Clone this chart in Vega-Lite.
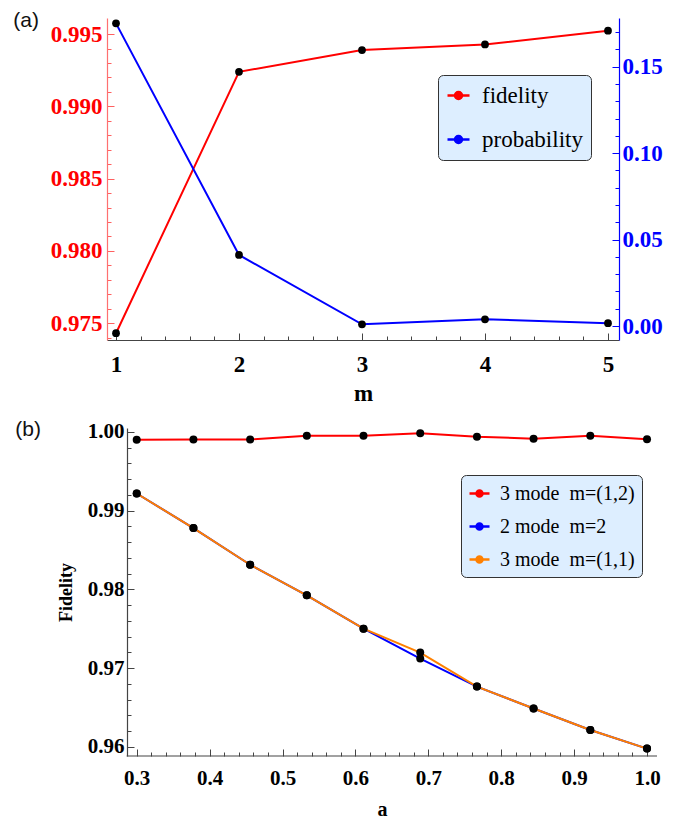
{
  "$schema": "https://vega.github.io/schema/vega-lite/v6.json",
  "padding": {"left": 13, "top": 10, "right": 5, "bottom": 1},
  "spacing": 13,
  "center": false,
  "resolve": {"scale": {"color": "independent"}, "legend": {"color": "independent"}},
  "config": {
    "font": "Liberation Serif",
    "view": {"stroke": null},
    "axis": {"grid": false, "labelFont": "Liberation Serif", "labelFontWeight": "bold", "labelFontSize": 22, "labelColor": "black", "titleFont": "Liberation Serif", "titleFontWeight": "bold", "titleColor": "black", "domainColor": "#444", "tickColor": "#444", "domainWidth": 1.2, "tickWidth": 1},
    "legend": {"labelFont": "Liberation Serif", "labelFontWeight": "normal", "labelColor": "black"},
    "title": {"font": "Liberation Sans", "fontWeight": "normal", "fontSize": 21, "color": "#111"}
  },
  "datasets": {
    "a": [
      {"m": 1, "series": "fidelity", "value": 0.97431},
      {"m": 2, "series": "fidelity", "value": 0.99239},
      {"m": 3, "series": "fidelity", "value": 0.99389},
      {"m": 4, "series": "fidelity", "value": 0.99428},
      {"m": 5, "series": "fidelity", "value": 0.99523},
      {"m": 1, "series": "probability", "value": 0.1751},
      {"m": 2, "series": "probability", "value": 0.0411},
      {"m": 3, "series": "probability", "value": 0.0010},
      {"m": 4, "series": "probability", "value": 0.0039},
      {"m": 5, "series": "probability", "value": 0.0016}
    ],
    "b": [
      {"a": 0.3, "series": "3 mode\u00a0 m=(1,2)", "f": 0.99902},
      {"a": 0.3778, "series": "3 mode\u00a0 m=(1,2)", "f": 0.99905},
      {"a": 0.4556, "series": "3 mode\u00a0 m=(1,2)", "f": 0.99905},
      {"a": 0.5333, "series": "3 mode\u00a0 m=(1,2)", "f": 0.99953},
      {"a": 0.6111, "series": "3 mode\u00a0 m=(1,2)", "f": 0.99953},
      {"a": 0.6889, "series": "3 mode\u00a0 m=(1,2)", "f": 0.99984},
      {"a": 0.7667, "series": "3 mode\u00a0 m=(1,2)", "f": 0.9994},
      {"a": 0.8444, "series": "3 mode\u00a0 m=(1,2)", "f": 0.99915},
      {"a": 0.9222, "series": "3 mode\u00a0 m=(1,2)", "f": 0.99953},
      {"a": 1.0, "series": "3 mode\u00a0 m=(1,2)", "f": 0.99907},
      {"a": 0.3, "series": "2 mode\u00a0 m=2", "f": 0.99218},
      {"a": 0.3778, "series": "2 mode\u00a0 m=2", "f": 0.98778},
      {"a": 0.4556, "series": "2 mode\u00a0 m=2", "f": 0.98313},
      {"a": 0.5333, "series": "2 mode\u00a0 m=2", "f": 0.97924},
      {"a": 0.6111, "series": "2 mode\u00a0 m=2", "f": 0.97501},
      {"a": 0.6889, "series": "2 mode\u00a0 m=2", "f": 0.97121},
      {"a": 0.7667, "series": "2 mode\u00a0 m=2", "f": 0.96765},
      {"a": 0.8444, "series": "2 mode\u00a0 m=2", "f": 0.96486},
      {"a": 0.9222, "series": "2 mode\u00a0 m=2", "f": 0.96214},
      {"a": 1.0, "series": "2 mode\u00a0 m=2", "f": 0.95977},
      {"a": 0.3, "series": "3 mode\u00a0 m=(1,1)", "f": 0.99218},
      {"a": 0.3778, "series": "3 mode\u00a0 m=(1,1)", "f": 0.98778},
      {"a": 0.4556, "series": "3 mode\u00a0 m=(1,1)", "f": 0.98313},
      {"a": 0.5333, "series": "3 mode\u00a0 m=(1,1)", "f": 0.97924},
      {"a": 0.6111, "series": "3 mode\u00a0 m=(1,1)", "f": 0.97501},
      {"a": 0.6889, "series": "3 mode\u00a0 m=(1,1)", "f": 0.97197},
      {"a": 0.7667, "series": "3 mode\u00a0 m=(1,1)", "f": 0.96765},
      {"a": 0.8444, "series": "3 mode\u00a0 m=(1,1)", "f": 0.96486},
      {"a": 0.9222, "series": "3 mode\u00a0 m=(1,1)", "f": 0.96214},
      {"a": 1.0, "series": "3 mode\u00a0 m=(1,1)", "f": 0.95977}
    ]
  },
  "vconcat": [
    {
      "width": 512,
      "height": 322,
      "title": {"text": "(a)", "anchor": "start", "frame": "bounds", "offset": -13, "dx": -37},
      "data": {"name": "a"},
      "resolve": {"scale": {"x": "independent", "y": "independent"}, "axis": {"x": "independent", "y": "independent"}},
      "layer": [
        {
          "transform": [{"filter": "datum.series === 'fidelity'"}],
          "mark": {"type": "point", "opacity": 0},
          "encoding": {
            "x": {"field": "m", "type": "quantitative", "scale": {"domain": [0.9267, 5.0895], "nice": false, "zero": false},
                  "axis": {"orient": "bottom", "values": [1.2,1.4,1.6,1.8,2.2,2.4,2.6,2.8,3.2,3.4,3.6,3.8,4.2,4.4,4.6,4.8], "labels": false, "domain": false, "tickSize": -4, "title": null}},
            "y": {"field": "value", "type": "quantitative", "scale": {"domain": [0.97384, 0.99611], "nice": false, "zero": false},
                  "axis": {"orient": "left", "values": [0.974,0.976,0.977,0.978,0.979,0.981,0.982,0.983,0.984,0.986,0.987,0.988,0.989,0.991,0.992,0.993,0.994], "labels": false, "domain": false, "tickSize": -4, "tickColor": "#ff6060", "title": null}}
          }
        },
        {
          "transform": [{"filter": "datum.series === 'probability'"}],
          "mark": {"type": "point", "opacity": 0},
          "encoding": {
            "x": {"field": "m", "type": "quantitative", "scale": {"domain": [0.9267, 5.0895], "nice": false, "zero": false}, "axis": null},
            "y": {"field": "value", "type": "quantitative", "scale": {"domain": [-0.0081, 0.1782], "nice": false, "zero": false},
                  "axis": {"orient": "right", "values": [0.01,0.02,0.03,0.04,0.06,0.07,0.08,0.09,0.11,0.12,0.13,0.14,0.16,0.17], "labels": false, "domain": false, "tickSize": -4, "tickColor": "#0000ff", "title": null}}
          }
        },
        {
          "transform": [{"filter": "datum.series === 'fidelity'"}],
          "mark": {"type": "line", "strokeWidth": 2},
          "encoding": {
            "x": {"field": "m", "type": "quantitative", "scale": {"domain": [0.9267, 5.0895], "nice": false, "zero": false},
                  "axis": {"orient": "bottom", "values": [1,2,3,4,5], "format": "d", "tickSize": -7, "labelPadding": 20, "labelFontSize": 23, "title": "m", "titleFontSize": 23, "titlePadding": 6}},
            "y": {"field": "value", "type": "quantitative", "scale": {"domain": [0.97384, 0.99611], "nice": false, "zero": false},
                  "axis": {"orient": "left", "values": [0.975,0.98,0.985,0.99,0.995], "format": ".3f", "tickSize": -7, "labelPadding": 12, "labelFontSize": 23, "labelColor": "#ff0000", "domainColor": "#ff7070", "tickColor": "#ff6060", "title": null}},
            "color": {"field": "series", "type": "nominal", "scale": {"domain": ["fidelity", "probability"], "range": ["#ff0000", "#0000ff"]},
                      "legend": {"orient": "none", "legendX": 331, "legendY": 57, "title": null, "fillColor": "#ddeeff", "strokeColor": "#333", "cornerRadius": 5, "padding": 8, "labelFontSize": 23, "symbolType": "M-1,0H1M-0.32,0A0.32,0.32,0,1,1,0.32,0A0.32,0.32,0,1,1,-0.32,0Z", "symbolSize": 484, "symbolStrokeWidth": 2.5, "rowPadding": 19, "labelOffset": 11,
                                 "encode": {"symbols": {"update": {"fill": {"signal": "datum.value === 'fidelity' ? '#ff0000' : '#0000ff'"}}}}}}
          }
        },
        {
          "transform": [{"filter": "datum.series === 'probability'"}],
          "mark": {"type": "line", "strokeWidth": 2},
          "encoding": {
            "x": {"field": "m", "type": "quantitative", "scale": {"domain": [0.9267, 5.0895], "nice": false, "zero": false}, "axis": null},
            "y": {"field": "value", "type": "quantitative", "scale": {"domain": [-0.0081, 0.1782], "nice": false, "zero": false},
                  "axis": {"orient": "right", "values": [0, 0.05, 0.1, 0.15], "format": ".2f", "tickSize": -7, "labelPadding": 10, "labelFontSize": 23, "labelColor": "#0000ff", "domainColor": "#0000ff", "tickColor": "#0000ff", "title": null}},
            "color": {"field": "series", "type": "nominal"}
          }
        },
        {
          "transform": [{"filter": "datum.series === 'fidelity'"}],
          "mark": {"type": "circle", "size": 60, "color": "black", "opacity": 1},
          "encoding": {
            "x": {"field": "m", "type": "quantitative", "scale": {"domain": [0.9267, 5.0895], "nice": false, "zero": false}, "axis": null},
            "y": {"field": "value", "type": "quantitative", "scale": {"domain": [0.97384, 0.99611], "nice": false, "zero": false}, "axis": null}
          }
        },
        {
          "transform": [{"filter": "datum.series === 'probability'"}],
          "mark": {"type": "circle", "size": 60, "color": "black", "opacity": 1},
          "encoding": {
            "x": {"field": "m", "type": "quantitative", "scale": {"domain": [0.9267, 5.0895], "nice": false, "zero": false}, "axis": null},
            "y": {"field": "value", "type": "quantitative", "scale": {"domain": [-0.0081, 0.1782], "nice": false, "zero": false}, "axis": null}
          }
        }
      ]
    },
    {
      "width": 550,
      "height": 328,
      "title": {"text": "(b)", "anchor": "start", "frame": "bounds", "offset": -19, "dx": -42},
      "data": {"name": "b"},
      "resolve": {"scale": {"x": "independent", "y": "independent"}, "axis": {"x": "independent", "y": "independent"}},
      "layer": [
        {
          "mark": {"type": "point", "opacity": 0},
          "encoding": {
            "x": {"field": "a", "type": "quantitative", "scale": {"domain": [0.25924, 1.0137], "nice": false, "zero": false},
                  "axis": {"orient": "bottom", "values": [0.32,0.34,0.36,0.38,0.42,0.44,0.46,0.48,0.52,0.54,0.56,0.58,0.62,0.64,0.66,0.68,0.72,0.74,0.76,0.78,0.82,0.84,0.86,0.88,0.92,0.94,0.96,0.98], "labels": false, "domain": false, "tickSize": -4, "title": null}},
            "y": {"field": "f", "type": "quantitative", "scale": {"domain": [0.95883, 1.0005], "nice": false, "zero": false},
                  "axis": {"orient": "left", "offset": -20, "values": [0.962,0.964,0.966,0.968,0.972,0.974,0.976,0.978,0.982,0.984,0.986,0.988,0.992,0.994,0.996,0.998], "labels": false, "domain": false, "tickSize": -4, "title": null}}
          }
        },
        {
          "data": {"values": [{}]},
          "mark": {"type": "rule", "color": "#444", "strokeWidth": 1.2},
          "encoding": {
            "x": {"datum": 0.28627, "type": "quantitative", "scale": {"domain": [0.25924, 1.0137], "nice": false, "zero": false}, "axis": null},
            "x2": {"datum": 1.0137},
            "y": {"datum": 0.95883, "type": "quantitative", "scale": {"domain": [0.95883, 1.0005], "nice": false, "zero": false}, "axis": null}
          }
        },
        {
          "transform": [{"filter": "datum.series === '3 mode\u00a0 m=(1,2)'"}],
          "mark": {"type": "line", "strokeWidth": 2},
          "encoding": {
            "x": {"field": "a", "type": "quantitative", "scale": {"domain": [0.25924, 1.0137], "nice": false, "zero": false},
                  "axis": {"orient": "bottom", "values": [0.3,0.4,0.5,0.6,0.7,0.8,0.9,1.0], "format": ".1f", "domain": false, "tickSize": -7, "labelPadding": 18, "title": "a", "titleFontSize": 20, "titlePadding": 11, "labelFontSize": 21}},
            "y": {"field": "f", "type": "quantitative", "scale": {"domain": [0.95883, 1.0005], "nice": false, "zero": false},
                  "axis": {"orient": "left", "offset": -20, "values": [0.96,0.97,0.98,0.99,1.0], "format": ".2f", "tickSize": -7, "labelPadding": 10, "labelFontSize": 21, "title": "Fidelity", "titleFontSize": 18, "titlePadding": 12}},
            "color": {"field": "series", "type": "nominal", "scale": {"domain": ["3 mode\u00a0 m=(1,2)", "2 mode\u00a0 m=2", "3 mode\u00a0 m=(1,1)"], "range": ["#ff0000", "#0000ff", "#ff8000"]},
                      "legend": {"orient": "none", "legendX": 354, "legendY": 47, "title": null, "fillColor": "#ddeeff", "strokeColor": "#333", "cornerRadius": 5, "padding": 7, "labelFontSize": 20, "symbolType": "M-1,0H1M-0.3,0A0.3,0.3,0,1,1,0.3,0A0.3,0.3,0,1,1,-0.3,0Z", "symbolSize": 400, "symbolStrokeWidth": 2.5, "rowPadding": 11, "labelOffset": 9,
                                 "encode": {"symbols": {"update": {"fill": {"signal": "datum.value === '2 mode\u00a0 m=2' ? '#0000ff' : (datum.value === '3 mode\u00a0 m=(1,2)' ? '#ff0000' : '#ff8000')"}}}}}}
          }
        },
        {
          "transform": [{"filter": "datum.series === '2 mode\u00a0 m=2'"}],
          "mark": {"type": "line", "strokeWidth": 2},
          "encoding": {
            "x": {"field": "a", "type": "quantitative", "scale": {"domain": [0.25924, 1.0137], "nice": false, "zero": false}, "axis": null},
            "y": {"field": "f", "type": "quantitative", "scale": {"domain": [0.95883, 1.0005], "nice": false, "zero": false}, "axis": null},
            "color": {"field": "series", "type": "nominal"}
          }
        },
        {
          "transform": [{"filter": "datum.series === '3 mode\u00a0 m=(1,1)'"}],
          "mark": {"type": "line", "strokeWidth": 2},
          "encoding": {
            "x": {"field": "a", "type": "quantitative", "scale": {"domain": [0.25924, 1.0137], "nice": false, "zero": false}, "axis": null},
            "y": {"field": "f", "type": "quantitative", "scale": {"domain": [0.95883, 1.0005], "nice": false, "zero": false}, "axis": null},
            "color": {"field": "series", "type": "nominal"}
          }
        },
        {
          "mark": {"type": "circle", "size": 64, "color": "black", "opacity": 1},
          "encoding": {
            "x": {"field": "a", "type": "quantitative", "scale": {"domain": [0.25924, 1.0137], "nice": false, "zero": false}, "axis": null},
            "y": {"field": "f", "type": "quantitative", "scale": {"domain": [0.95883, 1.0005], "nice": false, "zero": false}, "axis": null}
          }
        }
      ]
    }
  ]
}
